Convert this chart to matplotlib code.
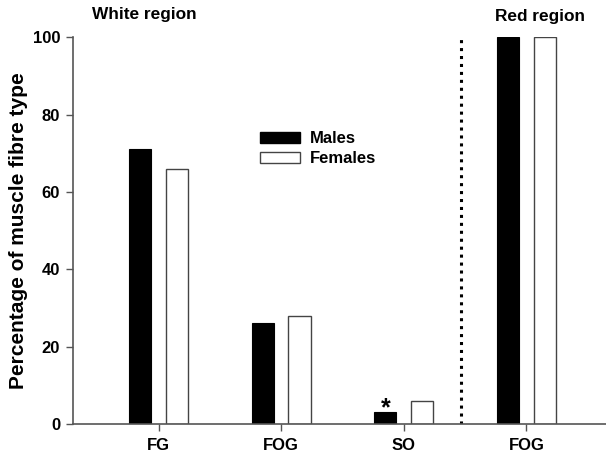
import matplotlib
matplotlib.use("Agg")
import matplotlib.pyplot as plt
import numpy as np
from matplotlib.patches import Patch

plt.rcParams["font.family"] = ["Liberation Sans", "DejaVu Sans"]
plt.rcParams["font.weight"] = "bold"

# ── Data ──────────────────────────────────────────────────────────────────────
categories = ["FG", "FOG", "SO", "FOG"]
males = [71, 26, 3, 100]
females = [66, 28, 6, 100]
y_ticks = [0, 20, 40, 60, 80, 100]

x = np.arange(len(categories))
off = 0.15
w = 0.18

fig = plt.figure(figsize=(6.06, 4.54), dpi=100)
ax = fig.add_axes([0.12, 0.066, 0.88, 0.852])

ax.bar(x - off, males, w, color="black", edgecolor="black", linewidth=0.8)
ax.bar(x + off, females, w, color="white", edgecolor="#444444", linewidth=1.0)

# significance marker on SO males
ax.annotate("*", xy=(x[2] - off, males[2]), xytext=(0, -6),
            textcoords="offset points", ha="center", va="bottom",
            fontsize=18, fontweight="bold")

# divider between white and red region
ax.axvline(2.47, color="black", linestyle=(0, (1, 1.6)), linewidth=2.2)

ax.set_xlim(-0.70, 3.65)
ax.set_ylim(0, 100)
ax.set_xticks(x)
ax.set_xticklabels(categories, fontsize=12, fontweight="bold")
ax.set_yticks(y_ticks)
ax.set_yticklabels([str(t) for t in y_ticks], fontsize=12, fontweight="bold")
ax.tick_params(axis="both", direction="out", length=5, width=1, color="#555555")
ax.tick_params(axis="x", pad=5)
ax.tick_params(axis="y", pad=4)
for s in ["top", "right"]:
    ax.spines[s].set_visible(False)
for s in ["left", "bottom"]:
    ax.spines[s].set_color("#555555")
    ax.spines[s].set_linewidth(1.2)

ax.set_ylabel("Percentage of muscle fibre type", fontsize=15, fontweight="bold",
              labelpad=3.5)

fig.text(144 / 606, 1 - 15 / 454, "White region", ha="center", va="center",
         fontsize=12.4, fontweight="bold")
fig.text(540 / 606, 1 - 17 / 454, "Red region", ha="center", va="center",
         fontsize=12.4, fontweight="bold")

handles = [Patch(facecolor="black", edgecolor="black", label="Males"),
           Patch(facecolor="white", edgecolor="#444444", label="Females")]
ax.legend(handles=handles, loc="upper left", bbox_to_anchor=(0.351, 0.757),
          frameon=False, fontsize=12, handlelength=2.4, handleheight=0.63,
          handletextpad=0.6, labelspacing=0.3, borderpad=0, borderaxespad=0)

fig.savefig("out.png", dpi=100)
